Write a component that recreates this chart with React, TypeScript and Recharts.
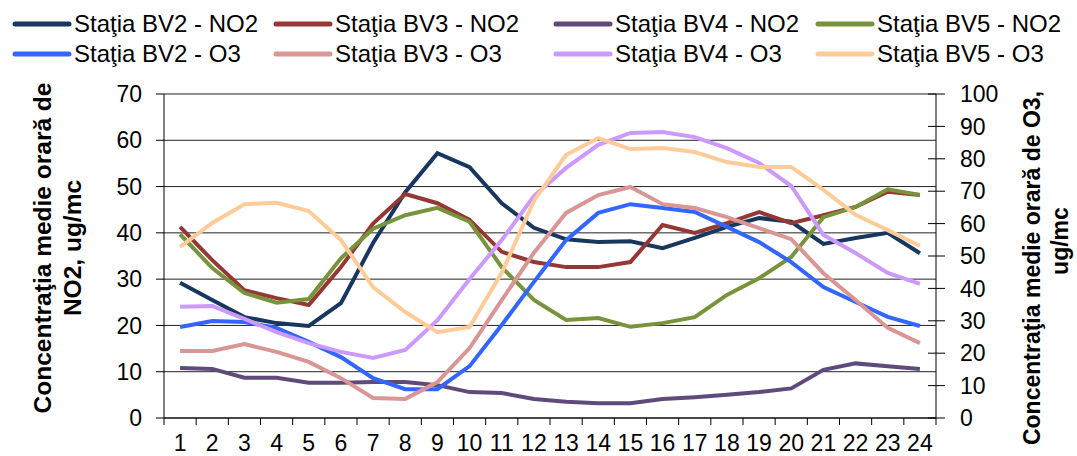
import { CartesianGrid, Label, Line, LineChart, XAxis, YAxis } from "recharts";

const hours = ["1", "2", "3", "4", "5", "6", "7", "8", "9", "10", "11", "12", "13", "14", "15", "16", "17", "18", "19", "20", "21", "22", "23", "24"];

const bv2No2 = [29.2, 25.5, 21.8, 20.5, 19.9, 24.8, 37.8, 48.8, 57.2, 54.2, 46.4, 41.1, 38.6, 38.0, 38.2, 36.7, 38.9, 41.3, 43.2, 42.4, 37.6, 38.9, 40.0, 35.6];
const bv3No2 = [41.3, 34.1, 27.6, 25.9, 24.4, 32.6, 42.0, 48.4, 46.4, 42.8, 35.9, 33.7, 32.6, 32.6, 33.7, 41.7, 40.0, 42.1, 44.5, 42.1, 43.8, 45.6, 48.9, 48.2];
const bv4No2 = [10.8, 10.6, 8.7, 8.7, 7.6, 7.6, 7.8, 7.8, 7.1, 5.6, 5.4, 4.1, 3.5, 3.2, 3.2, 4.1, 4.5, 5.0, 5.6, 6.4, 10.4, 11.8, 11.2, 10.6];
const bv5No2 = [39.7, 32.4, 27.0, 24.9, 25.7, 34.5, 40.9, 43.8, 45.4, 42.4, 32.6, 25.5, 21.2, 21.6, 19.7, 20.5, 21.8, 26.6, 30.2, 34.8, 43.4, 45.6, 49.4, 48.2];

const bv2O3 = [28.1, 29.9, 29.6, 27.8, 23.5, 18.8, 12.3, 8.9, 8.9, 16.0, 28.7, 42.0, 54.9, 63.3, 66.0, 64.8, 63.6, 59.0, 54.3, 48.1, 40.4, 35.8, 31.2, 28.4];
const bv3O3 = [20.7, 20.7, 22.8, 20.4, 17.3, 12.3, 6.2, 5.9, 11.1, 21.6, 36.4, 51.0, 63.3, 68.8, 71.3, 66.0, 64.8, 62.0, 58.6, 55.2, 44.7, 36.4, 27.8, 23.1];
const bv4O3 = [34.3, 34.6, 30.6, 26.5, 23.1, 20.4, 18.5, 21.0, 30.2, 42.9, 54.9, 68.5, 77.2, 84.3, 88.0, 88.3, 86.7, 83.3, 78.7, 71.6, 56.5, 50.9, 44.8, 41.4];
const bv5O3 = [52.8, 60.2, 66.0, 66.4, 63.9, 54.9, 40.4, 32.7, 26.5, 28.1, 44.8, 67.0, 81.2, 86.4, 83.0, 83.3, 82.1, 79.0, 77.5, 77.5, 70.4, 62.7, 58.0, 53.1];

const no2Ticks = [0, 10, 20, 30, 40, 50, 60, 70];
const o3Ticks = [0, 10, 20, 30, 40, 50, 60, 70, 80, 90, 100];

const series = [
  { key: "bv2No2", name: "Staţia BV2 - NO2", values: bv2No2, axis: "no2", color: "#17375E" },
  { key: "bv3No2", name: "Staţia BV3 - NO2", values: bv3No2, axis: "no2", color: "#953735" },
  { key: "bv4No2", name: "Staţia BV4 - NO2", values: bv4No2, axis: "no2", color: "#604A7B" },
  { key: "bv5No2", name: "Staţia BV5 - NO2", values: bv5No2, axis: "no2", color: "#77933C" },
  { key: "bv2O3", name: "Staţia BV2 - O3", values: bv2O3, axis: "o3", color: "#3366FF" },
  { key: "bv3O3", name: "Staţia BV3 - O3", values: bv3O3, axis: "o3", color: "#D99694" },
  { key: "bv4O3", name: "Staţia BV4 - O3", values: bv4O3, axis: "o3", color: "#CC99FF" },
  { key: "bv5O3", name: "Staţia BV5 - O3", values: bv5O3, axis: "o3", color: "#FFCC99" },
];

const data = hours.map((h, i) => {
  const row: Record<string, string | number> = { hour: h };
  series.forEach((s) => {
    row[s.key] = s.values[i];
  });
  return row;
});

const W = 1077;
const H = 456;
const leftW = 164;
const rightW = 141;
const band = (W - leftW - rightW) / hours.length;
const font = "'Liberation Sans', Arial, sans-serif";

const legendCols = [12, 273, 553, 815];
const legendRows = [24, 54];

const HourTick = (props: any) => {
  const { x, y, payload, index } = props;
  return (
    <g>
      <line x1={x - band / 2} x2={x - band / 2} y1={y} y2={y + 7} stroke="#000" />
      {index === hours.length - 1 && (
        <line x1={x + band / 2} x2={x + band / 2} y1={y} y2={y + 7} stroke="#000" />
      )}
      <text x={x} y={y + 33} textAnchor="middle" fontSize={23} fontFamily={font} fill="#000">
        {payload.value}
      </text>
    </g>
  );
};

const O3Tick = (props: any) => {
  const { x, y, payload } = props;
  return (
    <g>
      <line x1={x - 8} x2={x + 9} y1={y} y2={y} stroke="#000" />
      <text x={x + 24} y={y} dy="0.36em" textAnchor="start" fontSize={23} fontFamily={font} fill="#000">
        {payload.value}
      </text>
    </g>
  );
};

const titleStyle = { fontSize: 24.5, fontWeight: 700, fontFamily: font, fill: "#000" };
const rightTitleStyle = { ...titleStyle, fontSize: 23 };

const LeftTitle = () => (
  <g>
    <text x={42} y={248} transform="rotate(-90 42 248)" textAnchor="middle" dominantBaseline="central" style={titleStyle}>
      Concentraţia medie orară de
    </text>
    <text x={72} y={248} transform="rotate(-90 72 248)" textAnchor="middle" dominantBaseline="central" style={titleStyle}>
      NO2, ug/mc
    </text>
  </g>
);

const RightTitle = () => (
  <g>
    <text x={1032} y={268} transform="rotate(-90 1032 268)" textAnchor="middle" dominantBaseline="central" style={rightTitleStyle}>
      Concentraţia medie orară de O3,
    </text>
    <text x={1060} y={241} transform="rotate(-90 1060 241)" textAnchor="middle" dominantBaseline="central" style={rightTitleStyle}>
      ug/mc
    </text>
  </g>
);

const App = () => {
  return (
    <div style={{ position: "absolute", left: 0, top: 0, width: W, height: H, background: "#fff" }}>
      {series.map((s, i) => (
        <div
          key={s.key}
          style={{
            position: "absolute",
            left: legendCols[i % 4],
            top: legendRows[Math.floor(i / 4)] - 14,
            height: 28,
            display: "flex",
            alignItems: "center",
            fontFamily: font,
            fontSize: 24,
            color: "#000",
            whiteSpace: "nowrap",
          }}
        >
          <svg width={60} height={10} style={{ marginRight: 2 }}>
            <line x1={3} x2={57} y1={5} y2={5} stroke={s.color} strokeWidth={5} strokeLinecap="round" />
          </svg>
          {s.name}
        </div>
      ))}
      <LineChart
        width={W}
        height={H}
        data={data}
        margin={{ top: 94, right: 0, left: 0, bottom: 0 }}
        style={{ position: "absolute", left: 0, top: 0 }}
      >
        <CartesianGrid yAxisId="no2" vertical={false} stroke="#222" strokeWidth={1} />
        <XAxis
          dataKey="hour"
          interval={0}
          height={38}
          padding={{ left: band / 2, right: band / 2 }}
          axisLine={{ stroke: "#000" }}
          tickLine={false}
          tickSize={0}
          tickMargin={0}
          tick={<HourTick />}
        />
        <YAxis
          yAxisId="no2"
          orientation="left"
          width={leftW}
          domain={[0, 70]}
          ticks={no2Ticks}
          interval={0}
          axisLine={{ stroke: "#000" }}
          tickLine={{ stroke: "#000" }}
          tickSize={8}
          tickMargin={14}
          tick={{ fontSize: 23, fontFamily: font, fill: "#000" }}
        >
          <Label content={<LeftTitle />} />
        </YAxis>
        <YAxis
          yAxisId="o3"
          orientation="right"
          width={rightW}
          domain={[0, 100]}
          ticks={o3Ticks}
          interval={0}
          axisLine={{ stroke: "#000" }}
          tickLine={false}
          tickSize={0}
          tickMargin={0}
          tick={<O3Tick />}
        >
          <Label content={<RightTitle />} />
        </YAxis>
        {series.map((s) => (
          <Line
            key={s.key}
            yAxisId={s.axis}
            dataKey={s.key}
            name={s.name}
            type="linear"
            stroke={s.color}
            strokeWidth={4}
            dot={false}
            activeDot={false}
            isAnimationActive={false}
          />
        ))}
      </LineChart>
    </div>
  );
};

export default App;
